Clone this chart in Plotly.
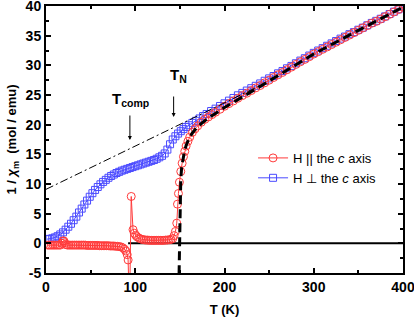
import plotly.graph_objects as go

# H || c axis (red circles)
T_par = [2, 4, 6, 8, 10, 12, 14, 16, 18, 19, 20, 21, 22, 24, 26, 28, 30, 32, 34, 36, 38, 40,
         42, 44, 46, 48, 50, 52, 54, 56, 58, 60, 62, 64, 66, 68, 70, 72, 74, 76, 78, 80, 82,
         84, 86, 88, 89.5, 91, 92, 93.5, 95.5, 97.5, 99, 100.5, 102, 104, 106, 108, 110, 112,
         114, 116, 118, 120, 122, 124, 126, 128, 130, 132, 134, 136, 138, 140, 142, 143.5, 145,
         146.5, 147.3, 148.4, 149.5, 151, 152.5, 154, 155.5, 157, 159, 161, 164, 167, 170, 174,
         178, 182, 186, 190, 195, 200, 205, 210, 215, 220, 225, 230, 235, 240, 245, 250, 255,
         260, 265, 270, 275, 280, 285, 290, 295, 300, 305, 310, 315, 320, 325, 330, 335, 340,
         345, 350, 355, 360, 365, 370, 375, 380, 385, 390, 395, 400]
chi_par = [-0.3, -0.3, -0.3, -0.3, -0.3, -0.3, -0.3, -0.3, 0.0, 0.4, 0.4, 0.1, -0.2, -0.3, -0.3,
           -0.3, -0.3, -0.3, -0.3, -0.3, -0.3, -0.3, -0.3, -0.3, -0.35, -0.35, -0.35, -0.35,
           -0.35, -0.35, -0.35, -0.4, -0.4, -0.4, -0.4, -0.4, -0.4, -0.45, -0.45, -0.45, -0.5,
           -0.5, -0.55, -0.6, -0.75, -1.0, -1.3, -1.9, -2.8, -12.0, 7.9, 2.3, 1.7, 1.35, 1.1,
           0.9, 0.75, 0.65, 0.6, 0.55, 0.55, 0.5, 0.5, 0.5, 0.5, 0.5, 0.5, 0.5, 0.5, 0.5, 0.55,
           0.55, 0.6, 0.65, 0.8, 1.3, 2.0, 3.4, 6.6, 8.4, 10.3, 12.1, 13.5, 14.6, 15.5, 16.4,
           17.2, 17.9, 18.7, 19.3, 19.8, 20.4, 20.9, 21.3, 21.7, 22.1, 22.6, 23.1, 23.55, 24.0,
           24.45, 24.9, 25.3, 25.75, 26.2, 26.6, 27.05, 27.5, 27.95, 28.4, 28.8, 29.25, 29.7,
           30.15, 30.6, 31.0, 31.45, 31.9, 32.3, 32.7, 33.1, 33.5, 33.9, 34.3, 34.7, 35.1, 35.5,
           35.9, 36.3, 36.7, 37.1, 37.4, 37.8, 38.2, 38.6, 39.0, 39.4, 39.8]

# H perpendicular to c axis (blue squares)
T_perp = [1, 4, 7, 10, 13, 16, 19, 22, 25, 28, 31, 34, 37, 40, 43, 46, 49, 52, 55, 58, 61, 64,
          67, 70, 73, 76, 79, 82, 85, 88, 91, 94, 97, 100, 103, 106, 109, 112, 115, 118, 121,
          124, 127, 130, 133, 136, 139, 142, 145, 148, 151, 154, 157, 160, 164, 168, 172, 176,
          180, 185, 190, 195, 200, 205, 210, 215, 220, 225, 230, 235, 240, 245, 250, 255, 260,
          265, 270, 275, 280, 285, 290, 295, 300, 305, 310, 315, 320, 325, 330, 335, 340, 345,
          350, 355, 360, 365, 370, 375, 380, 385, 390, 395, 400]
chi_perp = [0.7, 0.75, 0.85, 1.0, 1.2, 1.5, 1.85, 2.3, 2.8, 3.3, 3.9, 4.5, 5.2, 5.85, 6.55, 7.2,
            7.85, 8.45, 9.0, 9.5, 9.95, 10.35, 10.7, 11.05, 11.35, 11.6, 11.85, 12.05, 12.25,
            12.4, 12.55, 12.7, 12.85, 13.0, 13.15, 13.3, 13.45, 13.6, 13.75, 13.9, 14.05, 14.25,
            14.5, 14.75, 15.15, 15.8, 16.7, 17.5, 18.05, 18.5, 18.9, 19.25, 19.6, 19.9, 20.3,
            20.65, 21.05, 21.45, 21.8, 22.3, 22.7, 23.15, 23.6, 24.05, 24.5, 24.95, 25.35, 25.75,
            26.15, 26.55, 26.95, 27.4, 27.8, 28.2, 28.65, 29.05, 29.5, 29.9, 30.35, 30.8, 31.2,
            31.65, 32.1, 32.5, 32.9, 33.3, 33.7, 34.1, 34.5, 34.85, 35.25, 35.6, 36.0, 36.35,
            36.75, 37.15, 37.5, 37.85, 38.25, 38.65, 39.05, 39.45, 39.85]

# Fit curve (thick dashed)
T_fit = [149.1, 149.4, 149.7, 150.0, 150.5, 151, 152, 153.5, 155, 157, 160, 164, 170, 180, 190,
         200, 225, 250, 300, 350, 400]
chi_fit = [-5.2, -1.0, 2.5, 5.5, 8.5, 10.8, 12.8, 14.3, 15.4, 16.5, 17.6, 18.6, 19.7, 20.9,
           21.9, 22.9, 25.1, 27.4, 31.9, 35.9, 39.8]

# Curie-Weiss line (dash-dot)
T_cw = [0, 240]
chi_cw = [9.1, 26.6]

# Zero reference line
T_zero = [92, 400]
chi_zero = [0, 0]

# Tick labels
x_ticks = [0, 100, 200, 300, 400]
x_ticklabels = ["<b>0</b>", "<b>100</b>", "<b>200</b>", "<b>300</b>", "<b>400</b>"]
y_ticks = [-5, 0, 5, 10, 15, 20, 25, 30, 35, 40]
y_ticklabels = ["<b>-5</b>", "<b>0</b>", "<b>5</b>", "<b>10</b>", "<b>15</b>", "<b>20</b>",
                "<b>25</b>", "<b>30</b>", "<b>35</b>", "<b>40</b>"]

FONT = "Liberation Sans, Arial, sans-serif"
RED = "#ff3a3a"
BLUE = "#4a4aff"

fig = go.Figure()
fig.add_trace(go.Scatter(x=T_zero, y=chi_zero, mode="lines",
                         line=dict(color="black", width=2), showlegend=False))
fig.add_trace(go.Scatter(x=T_perp, y=chi_perp, mode="lines+markers",
                         name="H \u22a5 the <i>c</i> axis",
                         line=dict(color=BLUE, width=1),
                         marker=dict(symbol="square-open", size=7, color=BLUE,
                                     line=dict(width=1, color=BLUE))))
fig.add_trace(go.Scatter(x=T_par, y=chi_par, mode="lines+markers",
                         name="H || the <i>c</i> axis",
                         line=dict(color=RED, width=1),
                         marker=dict(symbol="circle-open", size=8, color=RED,
                                     line=dict(width=1, color=RED))))
fig.add_trace(go.Scatter(x=T_cw, y=chi_cw, mode="lines",
                         line=dict(color="black", width=1, dash="8px,3px,2px,3px"),
                         showlegend=False))
fig.add_trace(go.Scatter(x=T_fit, y=chi_fit, mode="lines",
                         line=dict(color="black", width=3, dash="9px,5px"),
                         showlegend=False))

axis_common = dict(showline=True, linecolor="black", linewidth=2, mirror="allticks",
                   ticks="inside", tickwidth=2, ticklen=5, tickcolor="black",
                   showgrid=False, zeroline=False, ticklabeloverflow="allow",
                   automargin=False,
                   tickfont=dict(family=FONT, size=14, color="black"))

fig.update_xaxes(range=[0, 400], tickmode="array", tickvals=x_ticks, ticktext=x_ticklabels,
                 minor=dict(dtick=50, tick0=0, ticks="inside", ticklen=3, tickwidth=2,
                            tickcolor="black", showgrid=False),
                 title=dict(text="<b>T (K)</b>", font=dict(family=FONT, size=13, color="black"),
                            standoff=13),
                 **axis_common)
fig.update_yaxes(range=[-5, 40], tickmode="array", tickvals=y_ticks, ticktext=y_ticklabels,
                 minor=dict(dtick=2.5, tick0=0, ticks="inside", ticklen=3, tickwidth=2,
                            tickcolor="black", showgrid=False),
                 title=dict(text="<b>1 / <i>\u03c7</i><sub>m</sub>  (mol / emu)</b>",
                            font=dict(family=FONT, size=13, color="black"),
                            standoff=6),
                 **axis_common)

fig.add_annotation(x=94, y=17.4, ax=94, ay=21.8, xref="x", yref="y", axref="x", ayref="y",
                   showarrow=True, arrowhead=2, arrowsize=0.8, arrowwidth=1, arrowcolor="black",
                   text="")
fig.add_annotation(x=143, y=21.3, ax=143, ay=25.0, xref="x", yref="y", axref="x", ayref="y",
                   showarrow=True, arrowhead=2, arrowsize=0.8, arrowwidth=1, arrowcolor="black",
                   text="")
fig.add_annotation(x=94.5, y=24.3, text="<b>T<sub>comp</sub></b>", showarrow=False,
                   font=dict(family=FONT, size=15, color="black"))
fig.add_annotation(x=148, y=28.3, text="<b>T<sub>N</sub></b>", showarrow=False,
                   font=dict(family=FONT, size=15, color="black"))

fig.update_layout(
    width=414, height=317,
    margin=dict(l=46, r=11, t=6, b=44, autoexpand=False),
    paper_bgcolor="white", plot_bgcolor="white",
    legend=dict(x=0.58, y=0.487, xanchor="left", yanchor="top",
                traceorder="reversed", bgcolor="rgba(0,0,0,0)",
                font=dict(family=FONT, size=13, color="black"),
                itemwidth=30, tracegroupgap=0),
    showlegend=True,
)

fig.write_html("out.html", config={"displayModeBar": False},
               post_script="document.body.style.margin='0';document.body.style.overflow='hidden';")
